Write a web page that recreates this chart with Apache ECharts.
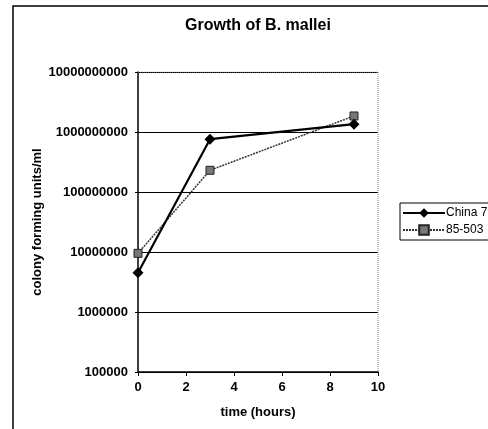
<!DOCTYPE html>
<html>
<head>
<meta charset="utf-8">
<script src="https://cdn.jsdelivr.net/npm/echarts@6/dist/echarts.min.js"></script>
<style>
  html, body { margin: 0; padding: 0; background: #fff; }
  #chart { width: 488px; height: 429px; }
</style>
</head>
<body>
<div id="chart"></div>
<script>
// hours sampled
var hours = [0, 3, 9];
// colony forming units/ml per strain
var china7 = [4.5e6, 7.6e8, 1.35e9];
var strain85503 = [9.5e6, 2.3e8, 1.85e9];
var seriesNames = ['China 7', '85-503'];
var xTicks = [0, 2, 4, 6, 8, 10];

function pairs(xs, ys) {
  return xs.map(function (x, i) { return [x, ys[i]]; });
}

var chart = echarts.init(document.getElementById('chart'));
var font = 'Liberation Sans, Arial, sans-serif';

var option = {
  animation: false,
  backgroundColor: '#fff',
  title: {
    text: 'Growth of B. mallei',
    left: 253,
    top: 13,
    textAlign: 'center',
    textStyle: { fontFamily: font, fontSize: 16, fontWeight: 'bold', color: '#000' }
  },
  graphic: [{
    type: 'rect',
    shape: { x: 13, y: 6, width: 520, height: 460 },
    style: { fill: null, stroke: '#000', lineWidth: 1.5 },
    silent: true
  }],
  legend: {
    left: 400,
    top: 203,
    orient: 'vertical',
    itemGap: 5,
    itemWidth: 42,
    itemHeight: 12,
    padding: [4, 4, 4, 2],
    borderColor: '#000',
    borderWidth: 1,
    textStyle: { fontFamily: font, fontSize: 12, color: '#000', padding: [0, 0, 0, -4] },
    data: seriesNames
  },
  grid: { left: 138, top: 72, width: 240, height: 300 },
  xAxis: {
    type: 'value',
    min: xTicks[0],
    max: xTicks[xTicks.length - 1],
    interval: 2,
    name: 'time (hours)',
    nameLocation: 'middle',
    nameGap: 34,
    nameTextStyle: { fontFamily: font, fontSize: 13, fontWeight: 'bold', color: '#000' },
    axisLine: { lineStyle: { color: '#000', width: 1.5 } },
    axisTick: { show: true, length: 4, lineStyle: { color: '#000' } },
    axisLabel: { fontFamily: font, fontSize: 13, fontWeight: 'bold', color: '#000', margin: 9 },
    splitLine: { show: false }
  },
  yAxis: {
    type: 'log',
    logBase: 10,
    min: 1e5,
    max: 1e10,
    name: 'colony forming units/ml',
    nameLocation: 'middle',
    nameGap: 94,
    nameTextStyle: { fontFamily: font, fontSize: 13, fontWeight: 'bold', color: '#000' },
    axisLine: { show: true, lineStyle: { color: '#000', width: 1.5 } },
    axisTick: { show: true, length: 3, lineStyle: { color: '#000' } },
    axisLabel: {
      fontFamily: font, fontSize: 13, fontWeight: 'bold', color: '#000', margin: 10,
      formatter: function (v) { return Math.round(v).toString(); }
    },
    splitLine: { show: true, lineStyle: { color: '#000', width: 1.2 } }
  },
  series: [
    {
      name: seriesNames[0],
      type: 'line',
      data: pairs(hours, china7),
      symbol: 'diamond',
      symbolSize: 11,
      itemStyle: { color: '#000' },
      lineStyle: { color: '#000', width: 2.2 },
      z: 3
    },
    {
      name: seriesNames[1],
      type: 'line',
      data: pairs(hours, strain85503),
      symbol: 'rect',
      symbolSize: 8,
      itemStyle: { color: '#777', borderColor: '#222', borderWidth: 1 },
      lineStyle: { color: '#333', width: 1.5, type: [2, 1] },
      z: 2
    },
    {
      // dotted plot frame on top and right
      type: 'line',
      data: [[0, 1e10], [10, 1e10], [10, 1e5]],
      symbol: 'none',
      silent: true,
      lineStyle: { color: '#888', width: 1, type: 'dotted' },
      z: 1
    }
  ]
};

chart.setOption(option);
</script>
</body>
</html>
